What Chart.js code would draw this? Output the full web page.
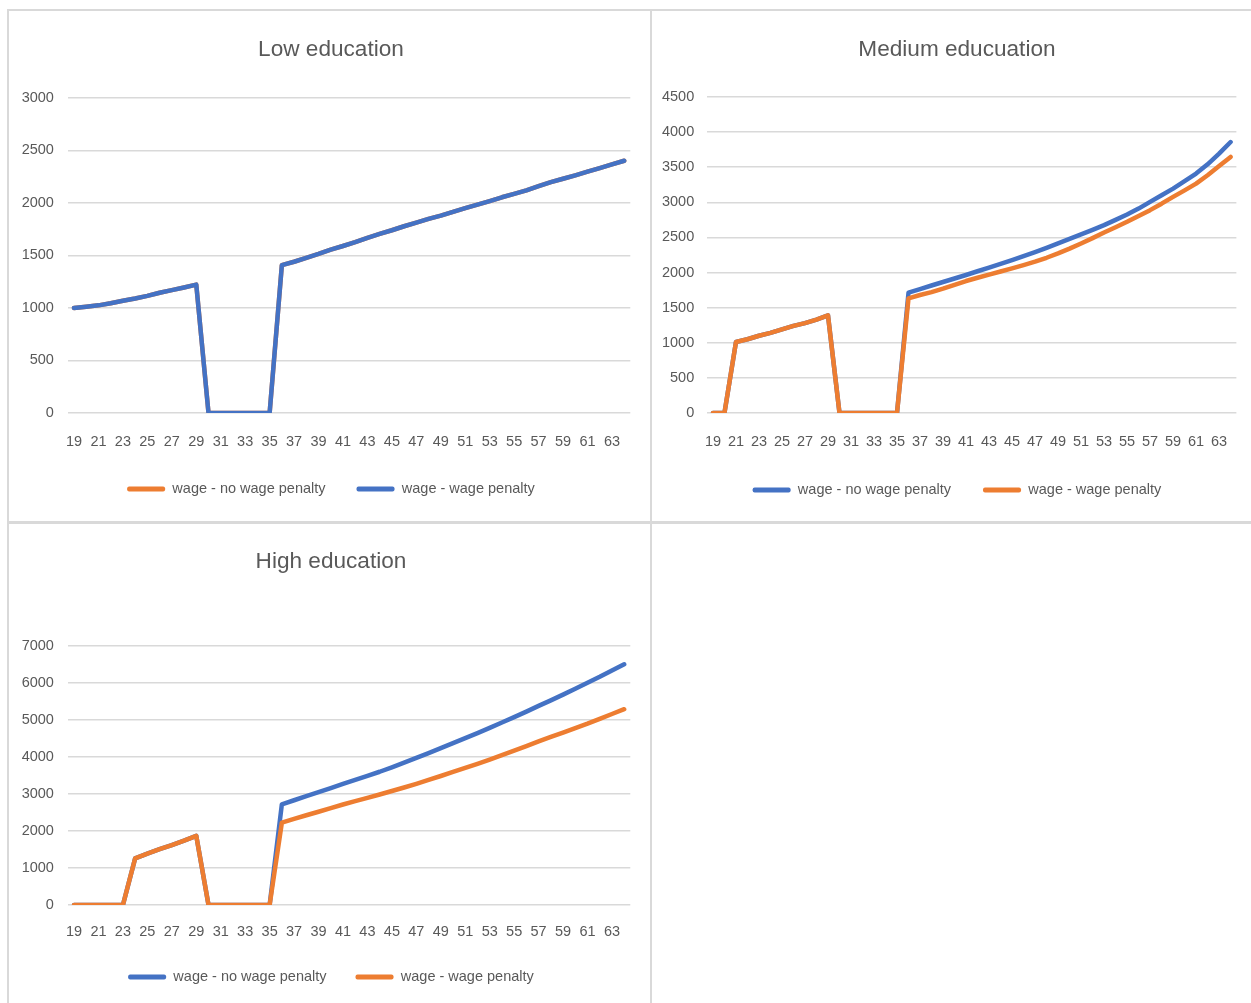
<!DOCTYPE html>
<html>
<head>
<meta charset="utf-8">
<title>Wage profiles by education</title>
<script src="https://cdn.jsdelivr.net/npm/chart.js@4.4.1/dist/chart.umd.min.js"></script>
<style>
  html, body { margin: 0; padding: 0; background: #fff; }
  body { position: relative; width: 1251px; height: 1003px; overflow: hidden; }
  .rule { position: absolute; background: #d9d9d9; }
  .box { position: absolute; }
</style>
</head>
<body>
<div class="rule" style="left:7px;top:9px;width:1244px;height:2px"></div>
<div class="rule" style="left:7px;top:9px;width:2px;height:994px"></div>
<div class="rule" style="left:650px;top:9px;width:2px;height:994px"></div>
<div class="rule" style="left:7px;top:521px;width:1244px;height:3px"></div>

<div class="box" style="left:9px;top:11px;width:641px;height:510px"><canvas id="low"></canvas></div>
<div class="box" style="left:652px;top:11px;width:599px;height:510px"><canvas id="medium"></canvas></div>
<div class="box" style="left:9px;top:524px;width:641px;height:479px"><canvas id="high"></canvas></div>

<script>
// ages 19..64
const ages = [19,20,21,22,23,24,25,26,27,28,29,30,31,32,33,34,35,36,37,38,39,40,41,42,43,44,45,46,47,48,49,50,51,52,53,54,55,56,57,58,59,60,61,62,63,64];

const lowNoPenalty = [1000,1012,1025,1045,1068,1090,1115,1145,1170,1195,1222,0,0,0,0,0,0,
  1408,1440,1478,1515,1555,1590,1627,1668,1705,1740,1778,1812,1848,1880,1915,1950,1984,2018,2054,2086,2120,2160,2198,2230,2263,2298,2332,2368,2402];
const lowPenalty = [1000,1012,1025,1045,1068,1090,1115,1145,1170,1195,1222,0,0,0,0,0,0,
  1408,1440,1478,1515,1555,1590,1627,1668,1705,1740,1778,1812,1848,1880,1915,1950,1984,2018,2054,2086,2120,2160,2198,2230,2263,2298,2332,2368,2402];

const mediumNoPenalty = [0,0,1010,1050,1100,1140,1190,1240,1280,1330,1390,0,0,0,0,0,0,
  1714,1765,1815,1865,1915,1965,2018,2070,2122,2177,2235,2292,2352,2414,2478,2542,2608,2675,2750,2826,2910,3006,3100,3195,3300,3408,3540,3692,3858];
const mediumPenalty = [0,0,1010,1050,1100,1140,1190,1240,1280,1330,1390,0,0,0,0,0,0,
  1633,1680,1720,1770,1825,1879,1925,1970,2015,2059,2105,2154,2210,2272,2340,2414,2490,2570,2645,2722,2805,2888,2980,3077,3170,3266,3385,3515,3645];

const highNoPenalty = [0,0,0,0,0,1261,1390,1510,1620,1740,1870,0,0,0,0,0,0,
  2720,2830,2940,3050,3160,3270,3380,3490,3600,3720,3845,3975,4105,4240,4375,4510,4645,4785,4930,5075,5225,5380,5530,5685,5845,6005,6165,6335,6505];
const highPenalty = [0,0,0,0,0,1261,1390,1510,1620,1740,1870,0,0,0,0,0,0,
  2225,2325,2425,2520,2620,2715,2805,2895,2985,3080,3175,3275,3380,3485,3595,3705,3815,3930,4050,4170,4295,4420,4540,4660,4780,4900,5030,5160,5290];

const BLUE = "#4472C4";
const ORANGE = "#ED7D31";
const GRID = "#d9d9d9";
const TICK_SIZE = 14.5;
const TITLE_SIZE = 22.6;

Chart.defaults.font.family = "'Liberation Sans', Arial, sans-serif";
Chart.defaults.color = "#595959";

function series(label, data, color, order){
    return {
        label,
        data,
        borderColor: color,
        backgroundColor: color,
        borderWidth: 4.5,
        pointRadius: 0,
        tension: 0,
        fill: false,
        borderJoinStyle: "round",
        borderCapStyle: "round",
        order
    };
}

// Excel centres title and legend a bit to the right of the plot; nudge them
function headerShift(shift){
    return {
        id: "headerShift",
        afterLayout(chart){
            chart.titleBlock.left += shift;
            chart.titleBlock.right += shift;
            chart.legend.left += shift;
            chart.legend.right += shift;
        }
    };
}

function drawChart(id, opts){
    new Chart(document.getElementById(id), {
        type: "line",
        data: {
            labels: ages,
            // Excel draws the second series on top
            datasets: [
                series(opts.names[0], opts.values[0], opts.colors[0], 1),
                series(opts.names[1], opts.values[1], opts.colors[1], 0)
            ]
        },
        plugins: [headerShift(opts.shift)],
        options: {
            responsive: true,
            maintainAspectRatio: false,
            animation: false,
            layout: { padding: { left: 0, right: opts.right, top: 0, bottom: opts.bottom } },
            plugins: {
                title: {
                    display: true,
                    text: opts.title,
                    font: { size: TITLE_SIZE, weight: "normal" },
                    padding: { top: opts.titleTop, bottom: opts.titleBottom }
                },
                legend: {
                    position: "bottom",
                    labels: {
                        boxWidth: 38,
                        boxHeight: 5,
                        padding: opts.legendPad,
                        font: { size: TICK_SIZE },
                        sort: (a, b) => a.datasetIndex - b.datasetIndex,
                        generateLabels: (chart) => Chart.defaults.plugins.legend.labels.generateLabels(chart)
                            .map((item) => ({ ...item, lineWidth: 0, borderRadius: 2 }))
                    }
                },
                tooltip: { enabled: false }
            },
            scales: {
                x: {
                    offset: true,
                    grid: { display: false, drawTicks: false },
                    border: { display: false },
                    ticks: {
                        autoSkip: false,
                        maxRotation: 0,
                        padding: opts.xPad,
                        font: { size: TICK_SIZE },
                        callback: function(value, index){
                            return index % 2 === 0 ? this.getLabelForValue(value) : "";
                        }
                    },
                    afterFit: (scale) => { scale.height = opts.xPad + TICK_SIZE * 1.2; }
                },
                y: {
                    min: 0,
                    max: opts.max,
                    grid: { color: GRID, lineWidth: 1.5, drawTicks: false },
                    border: { display: false },
                    ticks: {
                        stepSize: opts.step,
                        padding: opts.yPad,
                        font: { size: TICK_SIZE },
                        callback: (value) => String(value)
                    },
                    afterFit: (scale) => { scale.width = opts.yWidth; }
                }
            }
        }
    });
}

drawChart("low", {
    title: "Low education",
    names: ["wage - no wage penalty", "wage - wage penalty"],
    colors: [ORANGE, BLUE],
    values: [lowNoPenalty, lowPenalty],
    max: 3000, step: 500,
    titleTop: 25.4, titleBottom: 34.4,
    xPad: 20.3, legendPad: 31, bottom: 14.8,
    yWidth: 58.9, yPad: 14, right: 19.7, shift: 11.3
});

drawChart("medium", {
    title: "Medium educuation",
    names: ["wage - no wage penalty", "wage - wage penalty"],
    colors: [BLUE, ORANGE],
    values: [mediumNoPenalty, mediumPenalty],
    max: 4500, step: 500,
    titleTop: 25.4, titleBottom: 33.4,
    xPad: 20.3, legendPad: 32, bottom: 13.8,
    yWidth: 55.2, yPad: 13, right: 8.5, shift: 9.7
});

drawChart("high", {
    title: "High education",
    names: ["wage - no wage penalty", "wage - wage penalty"],
    colors: [BLUE, ORANGE],
    values: [highNoPenalty, highPenalty],
    max: 7000, step: 1000,
    titleTop: 24.4, titleBottom: 70.4,
    xPad: 18.3, legendPad: 29, bottom: 8.8,
    yWidth: 58.9, yPad: 14, right: 19.7, shift: 11.3
});
</script>
</body>
</html>
